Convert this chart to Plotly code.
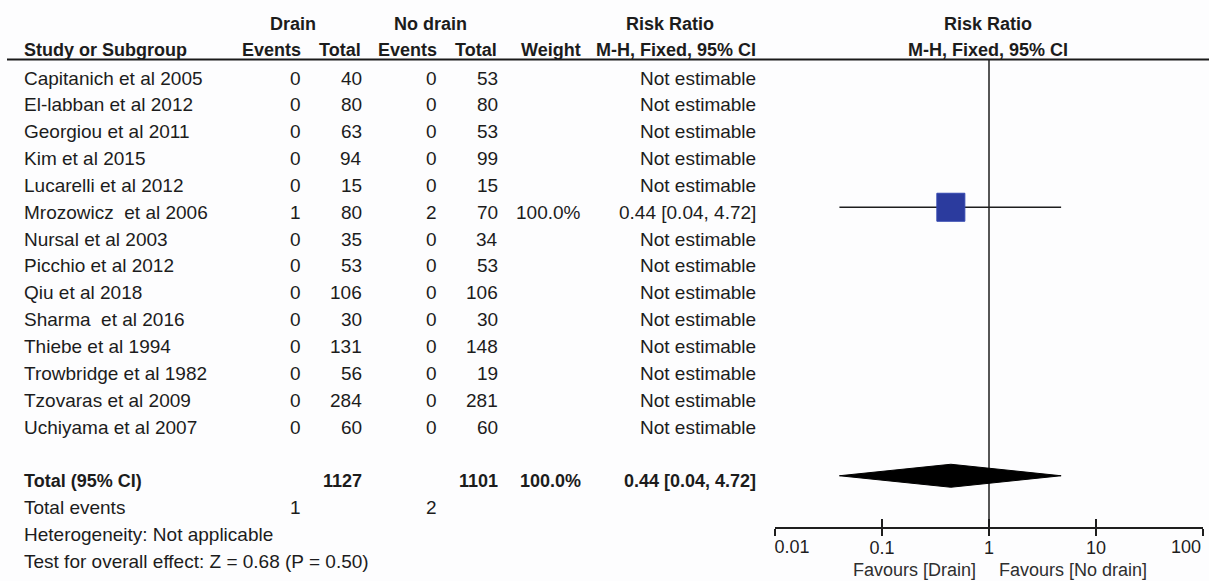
import plotly.graph_objects as go

# ---------------- data ----------------
studies = ["Capitanich et al 2005", "El-labban et al 2012", "Georgiou et al 2011", "Kim et al 2015",
           "Lucarelli et al 2012", "Mrozowicz  et al 2006", "Nursal et al 2003", "Picchio et al 2012",
           "Qiu et al 2018", "Sharma  et al 2016", "Thiebe et al 1994", "Trowbridge et al 1982",
           "Tzovaras et al 2009", "Uchiyama et al 2007"]
drain_events = [0, 0, 0, 0, 0, 1, 0, 0, 0, 0, 0, 0, 0, 0]
drain_total = [40, 80, 63, 94, 15, 80, 35, 53, 106, 30, 131, 56, 284, 60]
nodrain_events = [0, 0, 0, 0, 0, 2, 0, 0, 0, 0, 0, 0, 0, 0]
nodrain_total = [53, 80, 53, 99, 15, 70, 34, 53, 106, 30, 148, 19, 281, 60]
weights = [None, None, None, None, None, 100.0, None, None, None, None, None, None, None, None]
rr = [None, None, None, None, None, 0.44, None, None, None, None, None, None, None, None]
rr_lo = [None, None, None, None, None, 0.04, None, None, None, None, None, None, None, None]
rr_hi = [None, None, None, None, None, 4.72, None, None, None, None, None, None, None, None]

total_drain = 1127
total_nodrain = 1101
total_weight = 100.0
total_rr, total_lo, total_hi = 0.44, 0.04, 4.72
total_events_drain = 1
total_events_nodrain = 2
heterogeneity = "Heterogeneity: Not applicable"
overall_test = "Test for overall effect: Z = 0.68 (P = 0.50)"

tick_vals = [0.01, 0.1, 1, 10, 100]
tick_labels = ["0.01", "0.1", "1", "10", "100"]
favours_left = "Favours [Drain]"
favours_right = "Favours [No drain]"

# ---------------- layout helpers ----------------
W, H = 1209, 581
FONT = "Liberation Sans, Arial, sans-serif"
TXT = "#1c1c1c"
MARK_SHIFT = 5  # text sits slightly below marks


def row_y(k):
    return 73 + 26.85 * k


def px(x):
    return x / W


annotations = []


def add_text(x, y, text, anchor="left", bold=False, size=None, color=TXT, yshift=-MARK_SHIFT):
    annotations.append(dict(
        x=px(x), y=y, xref="paper", yref="y", text=("<b>%s</b>" % text) if bold else text,
        showarrow=False, xanchor=anchor, yanchor="middle", yshift=yshift,
        font=dict(family=FONT, size=size or (18 if bold else 19), color=color)))


# headers
add_text(293, 24, "Drain", "center", bold=True, yshift=0)
add_text(430, 24, "No drain", "center", bold=True, yshift=0)
add_text(670, 24, "Risk Ratio", "center", bold=True, yshift=0)
add_text(988, 24, "Risk Ratio", "center", bold=True, yshift=0)
add_text(22, 50, "Study or Subgroup", "left", bold=True, yshift=0)
add_text(303, 50, "Events", "right", bold=True, yshift=0)
add_text(363, 50, "Total", "right", bold=True, yshift=0)
add_text(439, 50, "Events", "right", bold=True, yshift=0)
add_text(499, 50, "Total", "right", bold=True, yshift=0)
add_text(583, 50, "Weight", "right", bold=True, yshift=0)
add_text(758, 50, "M-H, Fixed, 95% CI", "right", bold=True, yshift=0)
add_text(988, 50, "M-H, Fixed, 95% CI", "center", bold=True, yshift=0)

# study rows
for i, s in enumerate(studies):
    y = row_y(i)
    add_text(22, y, s.replace("  ", "\u00a0 "), "left")
    add_text(303, y, str(drain_events[i]), "right")
    add_text(364, y, str(drain_total[i]), "right")
    add_text(439, y, str(nodrain_events[i]), "right")
    add_text(500, y, str(nodrain_total[i]), "right")
    if weights[i] is not None:
        add_text(583, y, "%.1f%%" % weights[i], "right")
        add_text(758, y, "%.2f [%.2f, %.2f]" % (rr[i], rr_lo[i], rr_hi[i]), "right")
    else:
        add_text(758, y, "Not estimable", "right")

# totals
k_tot = len(studies) + 1
add_text(22, row_y(k_tot), "Total (95% CI)", "left", bold=True)
add_text(364, row_y(k_tot), str(total_drain), "right", bold=True)
add_text(500, row_y(k_tot), str(total_nodrain), "right", bold=True)
add_text(583, row_y(k_tot), "%.1f%%" % total_weight, "right", bold=True)
add_text(758, row_y(k_tot), "%.2f [%.2f, %.2f]" % (total_rr, total_lo, total_hi), "right", bold=True)
add_text(22, row_y(k_tot + 1), "Total events", "left")
add_text(303, row_y(k_tot + 1), str(total_events_drain), "right")
add_text(439, row_y(k_tot + 1), str(total_events_nodrain), "right")
add_text(22, row_y(k_tot + 2), heterogeneity, "left")
add_text(22, row_y(k_tot + 3), overall_test, "left")

# favours labels (x in log10 units on the log axis)
annotations.append(dict(x=0, y=570, xref="x", yref="y", text=favours_left, showarrow=False,
                        xanchor="right", yanchor="middle", xshift=-11,
                        font=dict(family=FONT, size=18, color="#2e2e2e")))
annotations.append(dict(x=0, y=570, xref="x", yref="y", text=favours_right, showarrow=False,
                        xanchor="left", yanchor="middle", xshift=8,
                        font=dict(family=FONT, size=18, color="#2e2e2e")))

fig = go.Figure()

AXIS_Y = 528
TOP_Y = 60

# line of no effect
fig.add_trace(go.Scatter(x=[1, 1], y=[TOP_Y, AXIS_Y], mode="lines",
                         line=dict(color="#1e1e1e", width=1.5), hoverinfo="skip", showlegend=False))

# study estimates
for i in range(len(studies)):
    if rr[i] is None:
        continue
    y = row_y(i)
    fig.add_trace(go.Scatter(x=[rr_lo[i], rr_hi[i]], y=[y, y], mode="lines",
                             line=dict(color="#1e1e1e", width=1.5), hoverinfo="skip", showlegend=False))
    fig.add_trace(go.Scatter(x=[rr[i]], y=[y], mode="markers",
                             marker=dict(symbol="square", size=28 * (weights[i] / 100) ** 0.5,
                                         color="#2b3b9e", line=dict(color="#3347b0", width=1)),
                             hoverinfo="skip", showlegend=False))

# total diamond
yt = row_y(k_tot)
hh = 11.5
fig.add_trace(go.Scatter(x=[total_lo, total_rr, total_hi, total_rr, total_lo],
                         y=[yt, yt - hh, yt, yt + hh, yt], mode="lines", fill="toself",
                         fillcolor="#000000", line=dict(color="#000000", width=1),
                         hoverinfo="skip", showlegend=False))

# helper traces for the overlay axes
for ax in ["x3", "x4", "x5"]:
    fig.add_trace(go.Scatter(x=[1], y=[-100], xaxis=ax, yaxis="y", mode="markers",
                             marker=dict(opacity=0), hoverinfo="skip", showlegend=False))

# header rule
shapes = [dict(type="line", xref="paper", yref="y", x0=px(7), x1=1, y0=59.5, y1=59.5,
               line=dict(color="#1a1a1a", width=2))]

dom = [px(775), px(1203)]
pos = (H - AXIS_Y) / H
tickfont = dict(family=FONT, size=18, color="#1e1e1e")
common = dict(type="log", range=[-2, 2], domain=dom, anchor="free", position=pos,
              automargin=False, showgrid=False, zeroline=False, fixedrange=True)

mid_text = [""] + tick_labels[1:-1] + [""]

fig.update_layout(
    width=W, height=H, margin=dict(l=0, r=0, t=0, b=0, autoexpand=False),
    paper_bgcolor="#fdfdfe", plot_bgcolor="rgba(0,0,0,0)",
    showlegend=False,
    xaxis=dict(**common, showline=True, linecolor="#1e1e1e", linewidth=1.5,
               ticks="inside", ticklen=8, tickwidth=1.5, tickcolor="#1e1e1e",
               tickvals=tick_vals, ticktext=mid_text, ticklabelstandoff=4, tickfont=tickfont),
    xaxis3=dict(**common, overlaying="x", showline=False,
                ticks="outside", ticklen=7, tickwidth=1.5, tickcolor="#1e1e1e",
                tickvals=tick_vals, showticklabels=False),
    xaxis4=dict(**common, overlaying="x", showline=False, ticks="inside", ticklen=8,
                tickcolor="rgba(0,0,0,0)", tickvals=[tick_vals[0]], ticktext=[tick_labels[0]],
                ticklabelshift=17, ticklabelstandoff=6, tickfont=tickfont),
    xaxis5=dict(**common, overlaying="x", showline=False, ticks="inside", ticklen=8,
                tickcolor="rgba(0,0,0,0)", tickvals=[tick_vals[-1]], ticktext=[tick_labels[-1]],
                ticklabelshift=-17, ticklabelstandoff=6, tickfont=tickfont),
    yaxis=dict(range=[H, 0], domain=[0, 1], visible=False, automargin=False, fixedrange=True),
    annotations=annotations, shapes=shapes,
)

fig.write_html("out.html", config={"displayModeBar": False},
               post_script="document.body.style.margin='0';document.body.style.overflow='hidden';")
